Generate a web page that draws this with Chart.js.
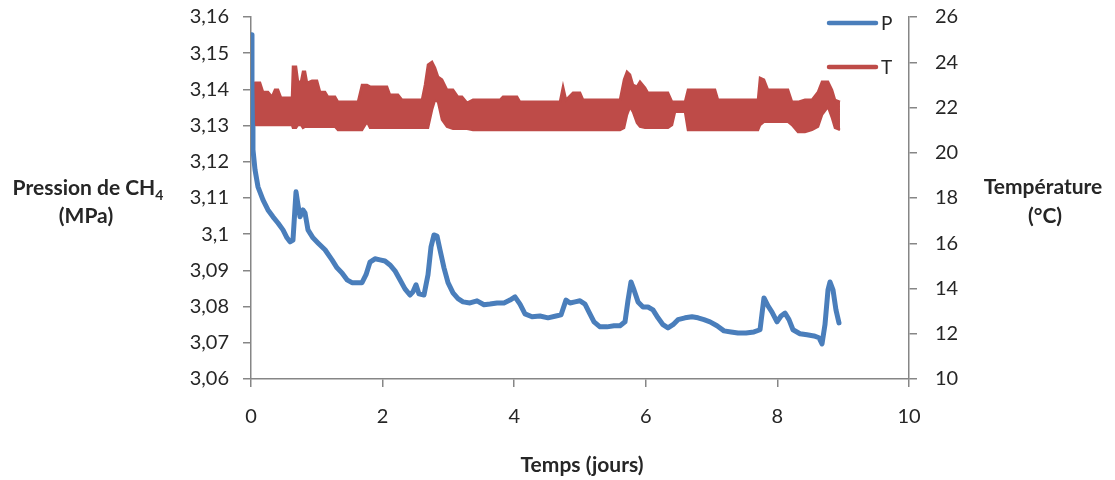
<!DOCTYPE html>
<html><head><meta charset="utf-8">
<script src="https://cdn.jsdelivr.net/npm/chart.js@4/dist/chart.umd.min.js"></script>
<style>html,body{margin:0;padding:0;background:#fff}#wrap{width:1115px;height:480px}</style>
</head><body><div id="wrap"><canvas id="c" width="1115" height="480"></canvas></div>
<script>
const seriesNames = ['P', 'T'];
const axisTitles = { left: ['Pression de CH', '4', '(MPa)'], right: ['Température', '(°C)'], x: 'Temps (jours)' };
const xTickValues = [0, 2, 4, 6, 8, 10];
const pTickValues = [3.06, 3.07, 3.08, 3.09, 3.10, 3.11, 3.12, 3.13, 3.14, 3.15, 3.16];
const tTickValues = [10, 12, 14, 16, 18, 20, 22, 24, 26];

const pDays = [0,0.015,0.023,0.03,0.061,0.106,0.182,0.258,0.334,0.41,
0.486,0.547,0.593,0.638,0.684,0.714,0.745,0.79,0.821,0.866,
0.942,1.018,1.125,1.231,1.307,1.383,1.459,1.535,1.611,1.687,
1.748,1.809,1.884,1.96,2.036,2.112,2.188,2.264,2.34,2.416,
2.462,2.508,2.553,2.629,2.69,2.736,2.781,2.827,2.872,2.933,
2.994,3.07,3.146,3.222,3.328,3.435,3.541,3.632,3.739,3.845,
3.936,4.012,4.088,4.164,4.271,4.392,4.514,4.635,4.711,4.787,
4.848,4.924,5.0,5.076,5.137,5.213,5.304,5.41,5.517,5.608,
5.684,5.73,5.775,5.821,5.882,5.957,6.033,6.109,6.185,6.261,
6.337,6.413,6.489,6.596,6.702,6.793,6.884,6.976,7.082,7.188,
7.295,7.401,7.523,7.644,7.736,7.796,7.857,7.918,7.994,8.055,
8.116,8.176,8.237,8.343,8.45,8.556,8.632,8.678,8.723,8.769,
8.799,8.845,8.89,8.936];
const pValues = [3.1551,3.1399,3.1297,3.1233,3.1178,3.1131,3.1095,3.1067,3.1048,3.1031,
3.1012,3.0990,3.0979,3.0984,3.1117,3.1081,3.1048,3.1067,3.1059,3.1012,
3.0990,3.0976,3.0957,3.0929,3.0907,3.0893,3.0874,3.0866,3.0866,3.0866,
3.0888,3.0923,3.0932,3.0929,3.0926,3.0915,3.0899,3.0874,3.0849,3.0832,
3.0841,3.0860,3.0835,3.0832,3.0888,3.0965,3.0998,3.0995,3.0957,3.0907,
3.0866,3.0838,3.0822,3.0813,3.0810,3.0816,3.0805,3.0807,3.0810,3.0810,
3.0818,3.0827,3.0807,3.0780,3.0772,3.0774,3.0769,3.0774,3.0777,3.0818,
3.0810,3.0813,3.0816,3.0807,3.0785,3.0758,3.0744,3.0744,3.0747,3.0747,
3.0758,3.0818,3.0868,3.0846,3.0813,3.0799,3.0799,3.0791,3.0769,3.0750,
3.0741,3.0750,3.0764,3.0769,3.0772,3.0769,3.0764,3.0758,3.0747,3.0733,
3.0730,3.0727,3.0727,3.0730,3.0736,3.0824,3.0802,3.0785,3.0758,3.0774,
3.0782,3.0764,3.0736,3.0725,3.0722,3.0719,3.0714,3.0697,3.0750,3.0846,
3.0868,3.0846,3.0791,3.0755];

const tDays = [0,0.061,0.137,0.182,0.258,0.319,0.365,0.41,0.456,0.593,
0.623,0.638,0.684,0.714,0.76,0.79,0.821,0.851,0.927,1.003,
1.049,1.125,1.17,1.277,1.322,1.626,1.687,1.763,1.809,2.067,
2.112,2.234,2.295,2.599,2.644,2.69,2.751,2.796,2.842,2.903,
2.979,3.07,3.146,3.207,3.283,3.374,3.784,3.83,4.043,4.088,
4.696,4.742,4.787,4.894,5.0,5.046,5.608,5.669,5.714,5.76,
5.805,5.866,5.912,5.988,6.033,6.337,6.398,6.444,6.596,6.641,
7.052,7.097,7.705,7.736,7.796,7.857,8.161,8.222,8.313,8.419,
8.526,8.617,8.678,8.769,8.83,8.875,8.951];
const tHigh = [23.05,23.09,23.09,22.69,22.69,22.47,22.78,22.78,22.43,22.43,
22.43,23.80,23.80,23.14,23.14,23.58,23.58,23.09,23.18,23.18,
22.69,22.69,22.47,22.47,22.25,22.25,23.00,23.00,22.92,22.92,
22.56,22.56,22.34,22.34,23.00,23.89,24.02,23.76,23.36,23.23,
22.78,22.78,22.47,22.47,22.21,22.34,22.34,22.47,22.47,22.25,
22.25,22.92,22.34,22.65,22.65,22.34,22.34,23.23,23.58,23.45,
23.00,22.92,23.14,22.87,22.65,22.65,22.25,22.25,22.25,22.78,
22.78,22.34,22.34,23.31,23.23,22.78,22.78,22.25,22.25,22.34,
22.34,22.69,23.14,23.14,22.78,22.34,22.25];
const tLow = [21.37,21.23,21.23,21.23,21.23,21.23,21.23,21.23,21.23,21.23,
21.23,21.10,21.10,21.23,21.23,21.10,21.15,21.15,21.15,21.15,
21.15,21.15,21.15,21.15,21.01,21.01,21.01,21.37,21.10,21.10,
21.10,21.10,21.10,21.10,21.10,21.10,21.90,22.34,22.25,21.46,
21.15,21.06,21.06,21.06,21.06,21.01,21.01,21.01,21.01,21.01,
21.01,21.01,21.01,21.01,21.01,21.01,21.01,21.10,21.68,22.03,
21.81,21.32,21.15,21.10,21.10,21.10,21.23,21.81,21.81,21.01,
21.01,21.01,21.01,21.23,21.37,21.37,21.37,21.23,20.92,20.92,
21.01,21.15,21.68,22.03,21.54,21.10,21.01];

const blue = '#4A7EBB';
const red = '#BE4B48';
const axisGray = '#868686';
const textColor = '#262626';
const FONT = 'Lato, "Open Sans", sans-serif';

const toPts = (xs, ys) => xs.map((x, i) => ({ x: x, y: ys[i] }));
const fmt = v => String(Math.round(v * 100) / 100).replace('.', ',');

const overlay = {
  id: 'overlay',
  afterDraw(chart) {
    const ctx = chart.ctx;
    ctx.save();
    ctx.fillStyle = textColor;
    ctx.textBaseline = 'middle';
    const big = 'bold 21px ' + FONT, small = 'bold 14px ' + FONT;
    ctx.font = big;
    const wa = ctx.measureText(axisTitles.left[0]).width;
    ctx.font = small;
    const ws = ctx.measureText(axisTitles.left[1]).width;
    const x0 = 88 - (wa + ws) / 2;
    ctx.textAlign = 'left';
    ctx.font = big; ctx.fillText(axisTitles.left[0], x0, 188);
    ctx.font = small; ctx.fillText(axisTitles.left[1], x0 + wa, 195);
    ctx.textAlign = 'center';
    ctx.font = big;
    ctx.fillText(axisTitles.left[2], 86, 216);
    ctx.fillText(axisTitles.right[0], 1043, 187);
    ctx.fillText(axisTitles.right[1], 1045, 216);
    ctx.fillText(axisTitles.x, 582, 465);
    // legend
    const items = [[seriesNames[0], blue, 23], [seriesNames[1], red, 67]];
    ctx.lineCap = 'round';
    ctx.lineWidth = 4.5;
    ctx.textAlign = 'left';
    ctx.font = '19px ' + FONT;
    items.forEach(([lab, col, y]) => {
      ctx.strokeStyle = col;
      ctx.beginPath(); ctx.moveTo(829, y); ctx.lineTo(876, y); ctx.stroke();
      ctx.fillStyle = textColor;
      ctx.fillText(lab, 881, y + 1);
    });
    ctx.restore();
  }
};

const gridOpts = { drawOnChartArea: false, drawTicks: true, tickLength: 8, color: axisGray, lineWidth: 1.5 };
const borderOpts = { color: axisGray, width: 1.5 };
const tickFont = { family: FONT, size: 20 };

new Chart(document.getElementById('c'), {
  type: 'line',
  data: {
    datasets: [
      { label: seriesNames[0], data: toPts(pDays, pValues), yAxisID: 'yP', borderColor: blue,
        borderWidth: 5, pointRadius: 0, tension: 0, order: 0, fill: false,
        borderCapStyle: 'round', borderJoinStyle: 'round' },
      { label: seriesNames[1], data: toPts(tDays, tHigh), yAxisID: 'yT', borderColor: red,
        backgroundColor: red, borderWidth: 2.5, pointRadius: 0, tension: 0, order: 1, fill: '+1' },
      { label: seriesNames[1] + ' min', data: toPts(tDays, tLow), yAxisID: 'yT', borderColor: red,
        borderWidth: 2.5, pointRadius: 0, tension: 0, order: 2, fill: false }
    ]
  },
  options: {
    responsive: false,
    animation: false,
    devicePixelRatio: 1,
    layout: { autoPadding: false, padding: { top: 17, left: 0, right: 0, bottom: 0 } },
    plugins: { legend: { display: false }, tooltip: { enabled: false } },
    scales: {
      x: {
        type: 'linear', min: 0, max: 10,
        afterBuildTicks: s => { s.ticks = xTickValues.map(v => ({ value: v })); },
        ticks: { color: textColor, font: tickFont, padding: 18, autoSkip: false, maxRotation: 0 },
        grid: gridOpts, border: borderOpts,
        afterFit: s => { s.height = 101; s.paddingLeft = 0; s.paddingRight = 0; }
      },
      yP: {
        type: 'linear', position: 'left', min: 3.06, max: 3.16,
        afterBuildTicks: s => { s.ticks = pTickValues.map(v => ({ value: v })); },
        ticks: { color: textColor, font: tickFont, padding: 14, autoSkip: false, callback: v => fmt(v) },
        grid: gridOpts, border: borderOpts,
        afterFit: s => { s.width = 251; s.paddingTop = 0; s.paddingBottom = 0; }
      },
      yT: {
        type: 'linear', position: 'right', min: 10, max: 26,
        afterBuildTicks: s => { s.ticks = tTickValues.map(v => ({ value: v })); },
        ticks: { color: textColor, font: tickFont, padding: 18, autoSkip: false },
        grid: gridOpts, border: borderOpts,
        afterFit: s => { s.width = 206; s.paddingTop = 0; s.paddingBottom = 0; }
      }
    }
  },
  plugins: [overlay]
});
</script>
</body></html>
